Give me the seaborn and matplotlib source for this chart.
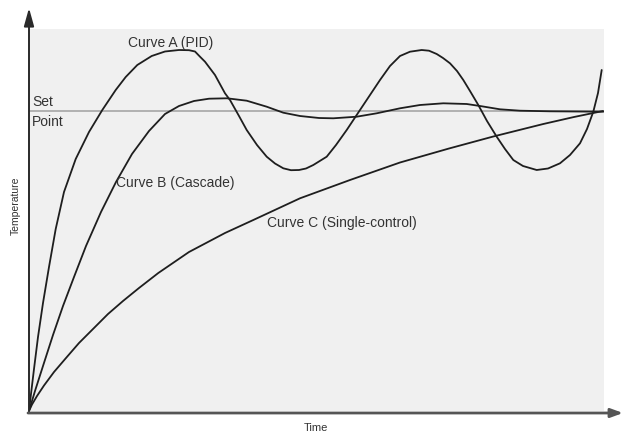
import matplotlib
matplotlib.use("Agg")
import matplotlib.pyplot as plt
import seaborn as sns
import pandas as pd

# ---- data (arbitrary time / temperature units; set point = 300) ----
set_point = 300
a_time = [0, 2, 5, 9, 14, 20, 26.7, 35, 46.7, 60, 73.3, 86.7, 96.7, 108.3, 122.7, 136, 150, 160,
          166, 171, 176, 186, 196, 201, 210, 217.7, 228, 237.7, 246, 254.3, 262, 270, 277, 284.3,
          297.7, 307, 317.7, 331, 341, 351, 361, 371, 381, 392.7, 400, 407.7, 414, 421, 428, 434.3,
          441, 449.3, 458, 467.7, 476, 484.3, 494, 507.7, 519, 531, 541, 551, 558, 564.3, 569, 572.7]
a_temp = [0, 17, 42, 74, 108, 144, 182, 219, 252, 279, 301, 321, 334, 346, 355, 359.5, 361, 360.8,
          359.5, 354.3, 349.3, 336, 317.7, 311, 295, 281, 266, 254.3, 247.5, 242.7, 240.8, 241, 242.5, 246,
          254.3, 266, 281, 301, 316, 331, 345, 355, 359.3, 361, 360.3, 357, 353, 347.7, 340, 331,
          320, 306, 290, 274.3, 262, 251, 245, 241, 242.5, 247.7, 256, 267.7, 282, 299.3, 318, 341]

b_time = [0, 6, 14, 24, 34, 45, 57, 72, 87, 103, 120, 136, 150, 165, 180, 198, 217.7, 237.7, 254.3,
          271, 290, 304.3, 327.7, 347.7, 371, 391, 414.3, 437.7, 451, 471, 491, 521, 574.3]
b_temp = [0, 20, 45, 76, 105, 134, 165, 199, 229, 257, 280, 297, 305, 310, 312.3, 312.7, 310.3, 304.3, 298.3,
          295, 293, 292.7, 294.3, 297.7, 302.7, 306, 307.7, 307, 305, 301.7, 300.3, 299.7, 299.3]

c_time = [0, 3, 8, 15, 25, 37, 50, 65, 79, 94, 110, 129.3, 160, 196, 224.3, 271, 321, 371, 420,
          464.3, 514.3, 545, 574]
c_temp = [0, 6.5, 15, 25.5, 39, 53, 68, 83, 97, 110, 123, 138, 159, 178, 191, 212.7, 231, 248.5, 262.5,
          274.5, 287, 294, 300]

curve_labels = ["Curve A (PID)", "Curve B (Cascade)", "Curve C (Single-control)"]
label_pos = [(99, 368), (87, 228), (238, 188)]
x_label = "Time"
y_label = "Temperature"
sp_labels = ["Set", "Point"]

# ---- figure ----
sns.set_theme(style="white")
plt.rcParams["font.family"] = ["Liberation Sans", "DejaVu Sans"]

fig = plt.figure(figsize=(6.23, 4.36), dpi=100)
ax = fig.add_axes([29 / 623, 25 / 436, 575 / 623, 382 / 436])
ax.set_facecolor("#f0f0f0")
for s in ax.spines.values():
    s.set_visible(False)
ax.set_xlim(0, 575)
ax.set_ylim(0, 382)
ax.set_xticks([])
ax.set_yticks([])

ax.axhline(set_point, color="#a0a0a0", lw=1.1, zorder=1)

line_color = "#1e1e1e"
for t, v in [(a_time, a_temp), (b_time, b_temp), (c_time, c_temp)]:
    df = pd.DataFrame({"t": t, "v": v})
    sns.lineplot(data=df, x="t", y="v", ax=ax, color=line_color, lw=1.3,
                 sort=False, estimator=None, zorder=3)
ax.set_xlabel("")
ax.set_ylabel("")

txt = "#333333"
for lab, (x, y) in zip(curve_labels, label_pos):
    ax.text(x, y, lab, fontsize=10, color=txt, va="center", ha="left", zorder=4)
ax.text(3, 309, sp_labels[0], fontsize=10, color=txt, va="center", ha="left")
ax.text(3, 289, sp_labels[1], fontsize=10, color=txt, va="center", ha="left")

# axes with arrows
ax.annotate("", xy=(0, 403), xytext=(0, -1), xycoords="data", annotation_clip=False,
            arrowprops=dict(arrowstyle="-|>,head_length=0.9,head_width=0.25", color="#2a2a2a",
                            lw=1.4, shrinkA=0, shrinkB=0))
ax.annotate("", xy=(594, -2), xytext=(-1, -2), xycoords="data", annotation_clip=False,
            arrowprops=dict(arrowstyle="-|>,head_length=0.6,head_width=0.22", color="#555555",
                            lw=2.0, shrinkA=0, shrinkB=0))

fig.text(316 / 623, 1 - 428 / 436, x_label, fontsize=8, color=txt, ha="center", va="center")
fig.text(16 / 623, 1 - 206 / 436, y_label, fontsize=7.5, color=txt, ha="center", va="center",
         rotation=90)

fig.savefig("out.png", dpi=100)
